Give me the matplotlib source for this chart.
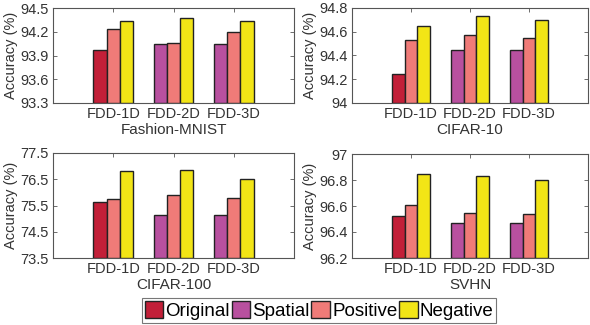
import matplotlib
matplotlib.use("Agg")
import matplotlib.pyplot as plt
import numpy as np
from matplotlib.patches import Patch

plt.rcParams['font.family'] = ['Liberation Sans', 'DejaVu Sans']

groups = ["FDD-1D", "FDD-2D", "FDD-3D"]
series_names = ["Original", "Spatial", "Positive", "Negative"]
colors = {"Original": "#C21F38", "Spatial": "#B8509F", "Positive": "#F07B78", "Negative": "#F2E516"}

# first bar per group: Original for FDD-1D, Spatial for FDD-2D/3D
first_series = ["Original", "Spatial", "Spatial"]

datasets = ["Fashion-MNIST", "CIFAR-10", "CIFAR-100", "SVHN"]
first_vals = {
    "Fashion-MNIST": [93.97, 94.05, 94.05],
    "CIFAR-10": [94.24, 94.45, 94.45],
    "CIFAR-100": [75.62, 75.13, 75.13],
    "SVHN": [96.52, 96.47, 96.47],
}
positive_vals = {
    "Fashion-MNIST": [94.23, 94.06, 94.20],
    "CIFAR-10": [94.53, 94.57, 94.55],
    "CIFAR-100": [75.75, 75.91, 75.79],
    "SVHN": [96.61, 96.55, 96.54],
}
negative_vals = {
    "Fashion-MNIST": [94.33, 94.37, 94.34],
    "CIFAR-10": [94.65, 94.73, 94.70],
    "CIFAR-100": [76.83, 76.85, 76.52],
    "SVHN": [96.85, 96.83, 96.80],
}
yticks = {
    "Fashion-MNIST": [93.3, 93.6, 93.9, 94.2, 94.5],
    "CIFAR-10": [94, 94.2, 94.4, 94.6, 94.8],
    "CIFAR-100": [73.5, 74.5, 75.5, 76.5, 77.5],
    "SVHN": [96.2, 96.4, 96.6, 96.8, 97],
}
yticklabels = {
    "Fashion-MNIST": ["93.3", "93.6", "93.9", "94.2", "94.5"],
    "CIFAR-10": ["94", "94.2", "94.4", "94.6", "94.8"],
    "CIFAR-100": ["73.5", "74.5", "75.5", "76.5", "77.5"],
    "SVHN": ["96.2", "96.4", "96.6", "96.8", "97"],
}

W, H = 590, 325
fig = plt.figure(figsize=(W / 100, H / 100), dpi=100)

# axes rectangles in pixels: left, top, right, bottom
rects = [
    (53, 8, 294, 103),
    (352, 8, 588, 103),
    (53, 153, 294, 258),
    (352, 154, 588, 258),
]

txtcol = "#333333"
bw = 0.22
x = np.arange(1, len(groups) + 1)

for name, (l, t, r, b) in zip(datasets, rects):
    ax = fig.add_axes([l / W, 1 - b / H, (r - l) / W, (b - t) / H])
    lo = yticks[name][0]
    fv = first_vals[name]
    pv = positive_vals[name]
    nv = negative_vals[name]
    fc = [colors[s] for s in first_series]
    ax.bar(x - bw, np.array(fv) - lo, bw, bottom=lo, color=fc, edgecolor="#222222", linewidth=1.0, zorder=3)
    ax.bar(x, np.array(pv) - lo, bw, bottom=lo, color=colors["Positive"], edgecolor="#222222", linewidth=1.0, zorder=3)
    ax.bar(x + bw, np.array(nv) - lo, bw, bottom=lo, color=colors["Negative"], edgecolor="#222222", linewidth=1.0, zorder=3)
    ax.set_xlim(0, 4)
    ax.set_ylim(yticks[name][0], yticks[name][-1])
    ax.set_yticks(yticks[name])
    ax.set_yticklabels(yticklabels[name])
    ax.set_xticks(x)
    ax.set_xticklabels(groups)
    ax.tick_params(direction="in", top=True, right=True, length=3, width=0.6,
                   colors="#555555", labelcolor=txtcol, labelsize=10.5, pad=3)
    for sp in ax.spines.values():
        sp.set_color("#555555")
        sp.set_linewidth(0.8)
    ax.set_ylabel("Accuracy (%)", fontsize=10.5, color=txtcol, labelpad=2)
    ax.set_xlabel(name, fontsize=11, color=txtcol, labelpad=1)

handles = [Patch(facecolor=colors[s], edgecolor="#222222", linewidth=1.0) for s in series_names]
leg = fig.legend(handles, series_names, loc="center", bbox_to_anchor=(319 / W, 1 - 310.5 / H),
                 ncol=4, fontsize=13.5, frameon=True, fancybox=False, edgecolor="#555555",
                 handlelength=1.0, handleheight=1.0, handletextpad=0.1, columnspacing=0.1,
                 borderpad=0.15, borderaxespad=0)
leg.get_frame().set_linewidth(0.8)

fig.savefig("out.png", dpi=100)
